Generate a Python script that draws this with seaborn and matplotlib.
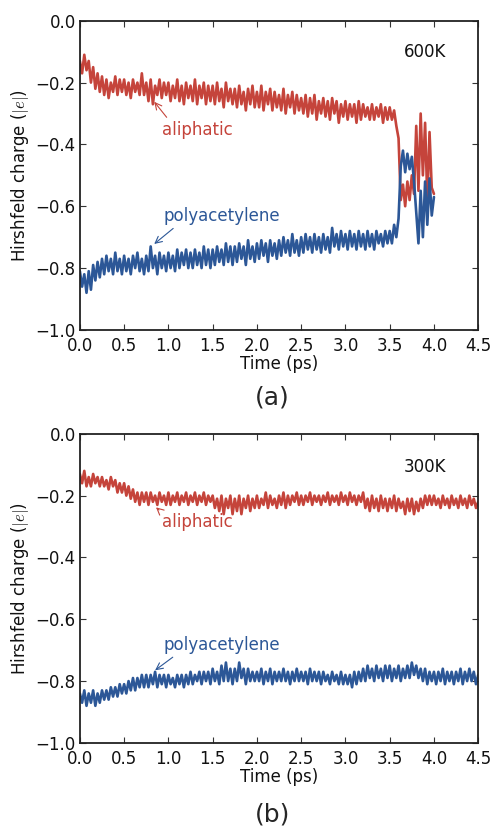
import numpy as np
import matplotlib
matplotlib.use("Agg")
import matplotlib.pyplot as plt
import seaborn as sns

DT = 0.025  # ps sampling of the typed series

ali_600K = [
    -0.13, -0.17, -0.11, -0.16, -0.13, -0.20, -0.15, -0.22, -0.17, -0.23,
    -0.18, -0.24, -0.19, -0.25, -0.20, -0.23, -0.18, -0.24, -0.19, -0.23,
    -0.19, -0.24, -0.20, -0.25, -0.19, -0.23, -0.20, -0.24, -0.17, -0.24,
    -0.20, -0.26, -0.19, -0.27, -0.21, -0.24, -0.19, -0.25, -0.20, -0.24,
    -0.20, -0.26, -0.21, -0.25, -0.19, -0.26, -0.21, -0.27, -0.20, -0.25,
    -0.21, -0.26, -0.19, -0.27, -0.21, -0.25, -0.20, -0.27, -0.21, -0.26,
    -0.21, -0.27, -0.20, -0.26, -0.22, -0.28, -0.20, -0.26, -0.22, -0.27,
    -0.22, -0.28, -0.21, -0.27, -0.23, -0.29, -0.22, -0.27, -0.21, -0.28,
    -0.23, -0.28, -0.21, -0.29, -0.23, -0.27, -0.22, -0.29, -0.23, -0.28,
    -0.24, -0.29, -0.22, -0.30, -0.24, -0.28, -0.23, -0.30, -0.24, -0.29,
    -0.25, -0.30, -0.24, -0.31, -0.25, -0.30, -0.24, -0.32, -0.26, -0.30,
    -0.25, -0.31, -0.26, -0.32, -0.25, -0.30, -0.26, -0.33, -0.27, -0.31,
    -0.26, -0.32, -0.27, -0.31, -0.27, -0.33, -0.26, -0.32, -0.27, -0.31,
    -0.28, -0.32, -0.27, -0.32, -0.28, -0.31, -0.27, -0.33, -0.28, -0.32,
    -0.28, -0.32, -0.29, -0.34, -0.38, -0.58, -0.53, -0.60, -0.52, -0.58,
    -0.50, -0.56, -0.34, -0.55, -0.30, -0.50, -0.33, -0.58, -0.36, -0.54,
    -0.56,
]

poly_600K = [
    -0.81, -0.86, -0.82, -0.88, -0.81, -0.87, -0.79, -0.84, -0.78, -0.83,
    -0.77, -0.82, -0.76, -0.81, -0.77, -0.82, -0.75, -0.81, -0.77, -0.82,
    -0.76, -0.81, -0.77, -0.82, -0.76, -0.80, -0.75, -0.81, -0.77, -0.82,
    -0.76, -0.81, -0.73, -0.80, -0.76, -0.82, -0.75, -0.80, -0.76, -0.81,
    -0.75, -0.80, -0.76, -0.81, -0.74, -0.80, -0.75, -0.79, -0.74, -0.80,
    -0.75, -0.80, -0.74, -0.79, -0.75, -0.80, -0.73, -0.79, -0.74, -0.80,
    -0.74, -0.79, -0.73, -0.78, -0.74, -0.79, -0.72, -0.78, -0.73, -0.79,
    -0.73, -0.78, -0.72, -0.77, -0.73, -0.79, -0.71, -0.77, -0.73, -0.78,
    -0.72, -0.77, -0.71, -0.76, -0.72, -0.78, -0.71, -0.76, -0.72, -0.77,
    -0.71, -0.76, -0.70, -0.75, -0.71, -0.76, -0.69, -0.75, -0.71, -0.76,
    -0.70, -0.75, -0.69, -0.74, -0.70, -0.75, -0.69, -0.74, -0.70, -0.75,
    -0.69, -0.74, -0.70, -0.75, -0.67, -0.73, -0.69, -0.74, -0.68, -0.73,
    -0.69, -0.74, -0.68, -0.73, -0.69, -0.74, -0.68, -0.73, -0.69, -0.74,
    -0.68, -0.73, -0.69, -0.74, -0.68, -0.72, -0.69, -0.73, -0.68, -0.72,
    -0.68, -0.72, -0.66, -0.70, -0.64, -0.47, -0.42, -0.49, -0.43, -0.48,
    -0.44, -0.52, -0.62, -0.72, -0.55, -0.70, -0.52, -0.66, -0.51, -0.63,
    -0.57,
]

ali_300K = [
    -0.13, -0.16, -0.12, -0.17, -0.14, -0.17, -0.13, -0.16, -0.14, -0.17,
    -0.14, -0.17, -0.15, -0.18, -0.14, -0.17, -0.15, -0.19, -0.16, -0.19,
    -0.16, -0.20, -0.17, -0.21, -0.18, -0.22, -0.19, -0.23, -0.19, -0.22,
    -0.19, -0.23, -0.19, -0.22, -0.20, -0.23, -0.19, -0.22, -0.20, -0.23,
    -0.19, -0.23, -0.20, -0.22, -0.19, -0.23, -0.20, -0.22, -0.19, -0.23,
    -0.20, -0.22, -0.19, -0.23, -0.20, -0.22, -0.19, -0.23, -0.20, -0.22,
    -0.20, -0.24, -0.21, -0.25, -0.20, -0.26, -0.21, -0.24, -0.20, -0.26,
    -0.21, -0.25, -0.20, -0.26, -0.21, -0.24, -0.20, -0.25, -0.21, -0.24,
    -0.20, -0.24, -0.21, -0.23, -0.19, -0.24, -0.20, -0.23, -0.21, -0.24,
    -0.20, -0.23, -0.19, -0.24, -0.20, -0.23, -0.20, -0.22, -0.19, -0.23,
    -0.20, -0.23, -0.20, -0.22, -0.19, -0.23, -0.20, -0.22, -0.20, -0.23,
    -0.20, -0.22, -0.19, -0.23, -0.20, -0.22, -0.20, -0.23, -0.19, -0.22,
    -0.20, -0.23, -0.19, -0.22, -0.20, -0.23, -0.20, -0.22, -0.19, -0.24,
    -0.21, -0.25, -0.20, -0.24, -0.21, -0.25, -0.20, -0.24, -0.21, -0.25,
    -0.21, -0.24, -0.20, -0.25, -0.21, -0.24, -0.22, -0.26, -0.21, -0.25,
    -0.21, -0.26, -0.22, -0.25, -0.21, -0.24, -0.20, -0.23, -0.20, -0.23,
    -0.20, -0.23, -0.21, -0.24, -0.20, -0.23, -0.21, -0.24, -0.20, -0.23,
    -0.21, -0.24, -0.20, -0.23, -0.21, -0.24, -0.20, -0.23, -0.21, -0.24,
    -0.22,
]

poly_300K = [
    -0.84, -0.87, -0.83, -0.88, -0.84, -0.87, -0.83, -0.88, -0.84, -0.87,
    -0.83, -0.86, -0.83, -0.86, -0.82, -0.85, -0.82, -0.85, -0.81, -0.84,
    -0.81, -0.84, -0.80, -0.83, -0.79, -0.83, -0.79, -0.82, -0.78, -0.82,
    -0.78, -0.82, -0.78, -0.81, -0.77, -0.82, -0.78, -0.81, -0.78, -0.82,
    -0.78, -0.81, -0.79, -0.82, -0.78, -0.81, -0.78, -0.82, -0.78, -0.81,
    -0.77, -0.81, -0.78, -0.80, -0.77, -0.81, -0.77, -0.80, -0.77, -0.81,
    -0.76, -0.80, -0.77, -0.81, -0.75, -0.80, -0.74, -0.80, -0.76, -0.81,
    -0.76, -0.80, -0.74, -0.79, -0.76, -0.81, -0.76, -0.80, -0.77, -0.80,
    -0.77, -0.80, -0.76, -0.81, -0.77, -0.80, -0.76, -0.81, -0.77, -0.80,
    -0.77, -0.80, -0.76, -0.80, -0.77, -0.81, -0.77, -0.80, -0.76, -0.80,
    -0.77, -0.80, -0.77, -0.81, -0.76, -0.80, -0.77, -0.80, -0.77, -0.81,
    -0.77, -0.80, -0.78, -0.81, -0.77, -0.80, -0.78, -0.81, -0.77, -0.81,
    -0.78, -0.81, -0.78, -0.82, -0.77, -0.81, -0.77, -0.80, -0.76, -0.80,
    -0.75, -0.79, -0.76, -0.80, -0.75, -0.79, -0.76, -0.80, -0.75, -0.79,
    -0.75, -0.80, -0.76, -0.79, -0.75, -0.80, -0.76, -0.79, -0.75, -0.79,
    -0.74, -0.78, -0.75, -0.79, -0.76, -0.80, -0.76, -0.81, -0.77, -0.80,
    -0.77, -0.81, -0.77, -0.80, -0.76, -0.81, -0.77, -0.80, -0.77, -0.81,
    -0.77, -0.80, -0.76, -0.81, -0.77, -0.80, -0.76, -0.80, -0.77, -0.81,
    -0.78,
]

x_ticks = [0.0, 0.5, 1.0, 1.5, 2.0, 2.5, 3.0, 3.5, 4.0, 4.5]
y_ticks = [-1.0, -0.8, -0.6, -0.4, -0.2, 0.0]
panel_temps = ["600K", "300K"]
panel_tags = ["(a)", "(b)"]

RED = "#c5443b"
BLUE = "#2c5797"

sns.set_style("ticks", {
    "xtick.direction": "in", "ytick.direction": "in",
    "xtick.top": True, "ytick.right": True,
    "axes.edgecolor": "#222222",
})
plt.rcParams["font.family"] = ["DejaVu Sans"]
plt.rcParams["mathtext.fontset"] = "cm"

fig = plt.figure(figsize=(4.93, 8.31), dpi=100)
ax_a = fig.add_axes([0.162, 0.603, 0.808, 0.372])
ax_b = fig.add_axes([0.162, 0.106, 0.808, 0.372])

series = [(ali_600K, poly_600K), (ali_300K, poly_300K)]

for ax, (ali, poly), temp in zip([ax_a, ax_b], series, panel_temps):
    t_ali = np.arange(len(ali)) * DT
    t_poly = np.arange(len(poly)) * DT
    sns.lineplot(x=t_ali, y=ali, ax=ax, color=RED, lw=1.9, estimator=None)
    sns.lineplot(x=t_poly, y=poly, ax=ax, color=BLUE, lw=1.9, estimator=None)
    ax.set_xlim(0, 4.5)
    ax.set_ylim(-1.0, 0.0)
    ax.set_xticks(x_ticks)
    ax.set_yticks(y_ticks)
    ax.set_xticklabels([f"{v:.1f}" for v in x_ticks])
    ax.set_yticklabels([f"{v:.1f}".replace("-", "\u2212") for v in y_ticks])
    ax.tick_params(labelsize=12, length=4, width=0.8, color="#333333",
                   labelcolor="#111111")
    ax.tick_params(axis="x", pad=5)
    ax.tick_params(axis="y", pad=3)
    for s in ax.spines.values():
        s.set_linewidth(1.3)
    ax.set_xlabel("Time (ps)", fontsize=12, labelpad=0, color="#111111")
    ax.set_ylabel(r"Hirshfeld charge ($|e|$)", fontsize=12, labelpad=3,
                  color="#111111")
    ax.text(3.9, -0.1 if temp == "600K" else -0.107, temp, fontsize=12,
            ha="center", va="center", color="#111111")

# annotations
ax_a.annotate("aliphatic", xy=(0.84, -0.262), xytext=(1.33, -0.352),
              color=RED, fontsize=12, ha="center", va="center",
              arrowprops=dict(arrowstyle="->", color=RED, lw=0.8,
                              shrinkA=0, shrinkB=0, relpos=(0.1, 1.0)))
ax_a.annotate("polyacetylene", xy=(0.84, -0.722), xytext=(1.6, -0.632),
              color=BLUE, fontsize=12, ha="center", va="center",
              arrowprops=dict(arrowstyle="->", color=BLUE, lw=0.8,
                              shrinkA=0, shrinkB=0, relpos=(0.12, 0.0)))
ax_b.annotate("aliphatic", xy=(0.86, -0.238), xytext=(1.33, -0.285),
              color=RED, fontsize=12, ha="center", va="center",
              arrowprops=dict(arrowstyle="->", color=RED, lw=0.8,
                              shrinkA=0, shrinkB=0, relpos=(0.0, 1.0)))
ax_b.annotate("polyacetylene", xy=(0.85, -0.765), xytext=(1.6, -0.683),
              color=BLUE, fontsize=12, ha="center", va="center",
              arrowprops=dict(arrowstyle="->", color=BLUE, lw=0.8,
                              shrinkA=0, shrinkB=0, relpos=(0.12, 0.0)))

fig.text(0.552, 0.522, panel_tags[0], fontsize=18, ha="center", va="center")
fig.text(0.552, 0.020, panel_tags[1], fontsize=18, ha="center", va="center")

fig.savefig("out.png", dpi=100)
